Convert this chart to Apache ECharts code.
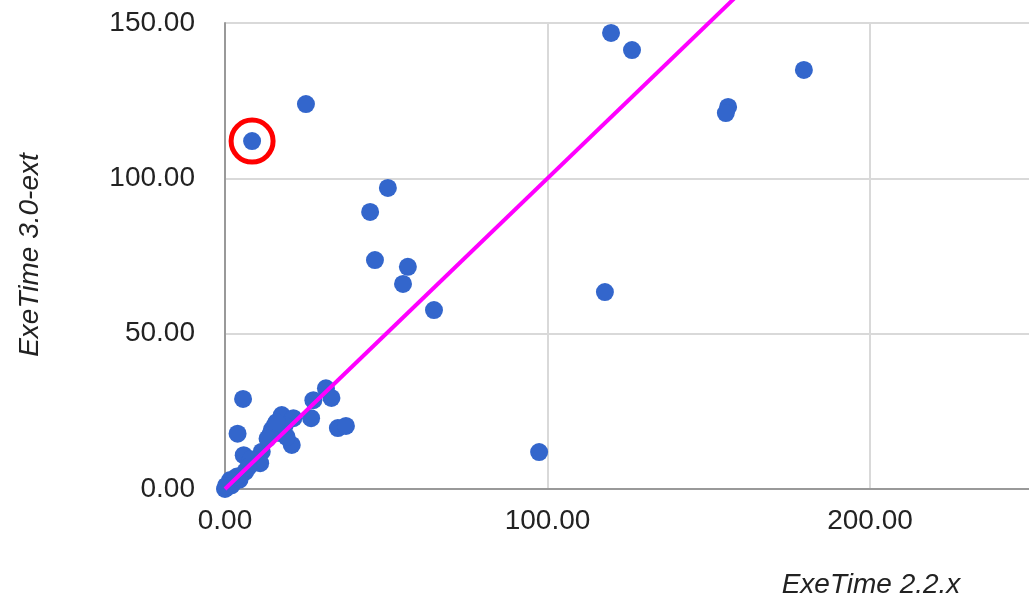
<!DOCTYPE html>
<html>
<head>
<meta charset="utf-8">
<script src="https://cdn.jsdelivr.net/npm/echarts@6/dist/echarts.min.js"></script>
<style>
html,body{margin:0;padding:0;background:#fff;}
#chart{width:1029px;height:605px;}
</style>
</head>
<body>
<div id="chart"></div>
<script>
// ExeTime 2.2.x (x) vs ExeTime 3.0-ext (y)
const xValues = [119.7, 126.2, 179.5, 156.0, 155.3, 25.1, 8.4, 50.5, 45.0, 46.5, 56.7, 55.2, 64.8, 117.8, 97.4, 5.6, 3.9,
  31.3, 33.0, 27.4, 26.7, 35.0, 37.5, 17.6, 21.2, 15.5, 14.5, 20.7, 17.0, 19.1, 14.0, 11.4, 13.2, 18.5, 16.0,
  5.8, 9.8, 10.9, 8.0, 6.3, 4.5, 3.7, 2.0, 1.6, 0.5, 0.0, 0.3, 7.2];
const yValues = [146.8, 141.3, 134.9, 123.0, 121.0, 123.9, 112.0, 96.9, 89.2, 73.7, 71.5, 66.0, 57.6, 63.4, 11.9, 29.0, 17.8,
  32.4, 29.3, 28.6, 22.8, 19.6, 20.3, 23.8, 22.8, 20.6, 19.0, 14.2, 18.0, 16.8, 17.4, 12.0, 16.2, 20.5, 21.5,
  10.9, 9.3, 8.3, 9.6, 5.6, 3.0, 4.0, 1.2, 2.9, 0.4, 0.0, 1.0, 7.0];
const highlighted = [[8.4, 112.0]];
const refLine = [[0, 0], [160, 160]];
const xTitle = 'ExeTime 2.2.x';
const yTitle = 'ExeTime 3.0-ext';

const points = xValues.map((x, i) => [x, yValues[i]]);
const FONT = '"Liberation Sans", Arial, sans-serif';

const chart = echarts.init(document.getElementById('chart'), null, {renderer: 'canvas'});
chart.setOption({
  backgroundColor: '#ffffff',
  animation: false,
  grid: {left: 225, right: 0, top: 23, bottom: 116},
  xAxis: {
    type: 'value', min: 0, max: 249.3, interval: 100,
    axisLine: {show: true, onZero: false, lineStyle: {color: '#999', width: 2}},
    axisTick: {show: false},
    splitLine: {show: true, showMinLine: false, showMaxLine: false, lineStyle: {color: '#d9d9d9', width: 2}},
    axisLabel: {formatter: v => v.toFixed(2), showMaxLabel: false, fontSize: 28, fontFamily: FONT, color: '#222', margin: 18}
  },
  yAxis: {
    type: 'value', min: 0, max: 150, interval: 50,
    axisLine: {show: true, onZero: false, lineStyle: {color: '#999', width: 2}},
    axisTick: {show: false},
    splitLine: {show: true, showMinLine: false, lineStyle: {color: '#d9d9d9', width: 2}},
    axisLabel: {formatter: v => v.toFixed(2), fontSize: 28, fontFamily: FONT, color: '#222', margin: 30}
  },
  series: [
    {
      type: 'scatter', data: points, symbol: 'circle', symbolSize: 18,
      itemStyle: {color: '#3366cc', opacity: 1}, z: 3
    },
    {
      type: 'line', data: refLine, showSymbol: false, symbol: 'none', clip: false,
      lineStyle: {color: '#ff00ff', width: 4}, z: 4
    },
    {
      type: 'scatter', data: highlighted, symbol: 'circle', symbolSize: 42,
      itemStyle: {color: 'rgba(0,0,0,0)', borderColor: '#ff0000', borderWidth: 5, opacity: 1}, z: 5
    }
  ],
  graphic: [
    {type: 'text', x: 871, y: 585, style: {text: xTitle, font: 'italic 28px ' + FONT, fill: '#222', textAlign: 'center', textVerticalAlign: 'middle'}},
    {type: 'text', x: 30, y: 255, rotation: Math.PI / 2, style: {text: yTitle, font: 'italic 28px ' + FONT, fill: '#222', textAlign: 'center', textVerticalAlign: 'middle'}}
  ]
});
</script>
</body>
</html>
